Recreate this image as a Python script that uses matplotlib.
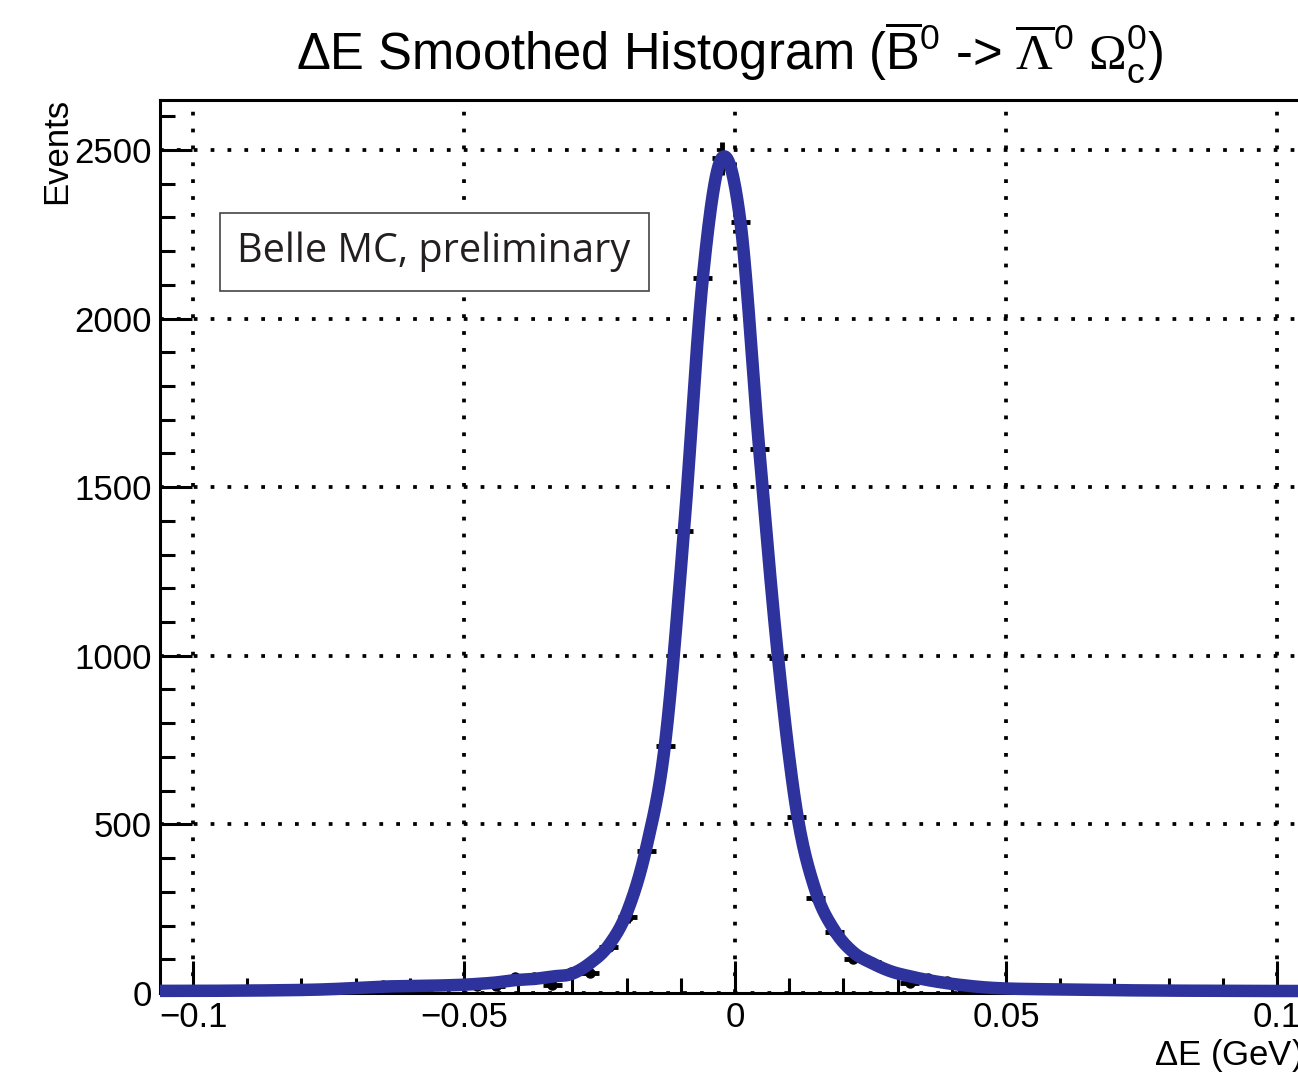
import numpy as np
import matplotlib
matplotlib.use('Agg')
import matplotlib.pyplot as plt
from matplotlib.patches import Rectangle

plt.rcParams['font.family'] = ['Liberation Sans', 'DejaVu Sans']
plt.rcParams['mathtext.fontset'] = 'custom'
plt.rcParams['mathtext.rm'] = 'Liberation Sans'
plt.rcParams['mathtext.it'] = 'Liberation Sans'
plt.rcParams['mathtext.cal'] = 'Liberation Serif'

# histogram binning (GeV)
bin_lo = -0.10484
bin_w = 0.00347

# counts per bin
counts = [6, 7, 5, 8, 6, 9, 7, 10, 8, 12,
          14, 25, 24, 12, 25, 28, 20, 22, 48, 48,
          25, 62, 58, 137, 224, 422, 733, 1371, 2120, 2475,
          2287, 1613, 994, 523, 283, 180, 100, 92, 65, 30,
          45, 35, 8, 15, 12, 10, 14, 9, 11, 7,
          10, 6, 9, 5, 8, 6, 7, 5, 6, 7, 5]

xticks = [-0.1, -0.05, 0, 0.05, 0.1]
xticklabels = ['\u22120.1', '\u22120.05', '0', '0.05', '0.1']
yticks = [0, 500, 1000, 1500, 2000, 2500]

x_min, x_max = -0.1061, 0.1061

counts = np.array(counts, dtype=float)
centers = bin_lo + bin_w * (np.arange(len(counts)) + 0.5)
errs = np.sqrt(counts)

# smoothing: kernel average with a bandwidth that grows where the counts are low
hw = np.clip(0.0008 * (counts.max() / counts) ** 0.4, 0.0008, 0.006)
k = np.exp(-0.5 * ((centers[:, None] - centers[None, :]) / hw[:, None]) ** 2)
ysm = (k * counts).sum(axis=1) / k.sum(axis=1)


def catmull_rom(x, y, n=30):
    xp = np.concatenate([[2 * x[0] - x[1]], x, [2 * x[-1] - x[-2]]])
    yp = np.concatenate([[2 * y[0] - y[1]], y, [2 * y[-1] - y[-2]]])
    xo, yo = [], []
    t = np.linspace(0, 1, n, endpoint=False)
    for i in range(1, len(xp) - 2):
        p0, p1, p2, p3 = yp[i - 1], yp[i], yp[i + 1], yp[i + 2]
        yo.append(0.5 * (2 * p1 + (-p0 + p2) * t + (2 * p0 - 5 * p1 + 4 * p2 - p3) * t ** 2
                         + (-p0 + 3 * p1 - 3 * p2 + p3) * t ** 3))
        xo.append(xp[i] + (xp[i + 1] - xp[i]) * t)
    return np.concatenate(xo), np.concatenate(yo)


xs, ys = catmull_rom(centers, ysm)
keep = (xs >= x_min) & (xs <= x_max)
xs = np.concatenate([[x_min], xs[keep], [x_max]])
ys = np.concatenate([[ysm[0]], ys[keep], [ysm[-1]]])

W, H = 1298, 1074
fig = plt.figure(figsize=(W / 100, H / 100), dpi=100)
ax = fig.add_axes([160 / W, 1 - 993 / H, (1310 - 160) / W, (993 - 100) / H])

ax.errorbar(centers, counts, yerr=errs, xerr=bin_w / 2, fmt='o', color='black',
            ms=6.5, elinewidth=3.5, capsize=0, zorder=3)
ax.plot(xs, ys, color='#2d329c', lw=9, solid_capstyle='butt', zorder=4,
        clip_on=False)

ax.set_xlim(x_min, x_max)
ax.set_ylim(0, 2648)
ax.set_xticks(xticks)
ax.set_xticklabels(xticklabels)
ax.set_yticks(yticks)
ax.set_xticks(np.arange(-0.1, 0.1001, 0.01), minor=True)
ax.set_yticks(np.arange(0, 2601, 100), minor=True)

ax.grid(True, which='major', color='black', linestyle=(0, (1, 3.5)), lw=2.7)
ax.tick_params(which='both', direction='in', top=False, right=False,
               labelsize=25, width=2.2, color='black', pad=6)
ax.tick_params(which='major', length=23)
ax.tick_params(which='minor', length=11)
for s in ax.spines.values():
    s.set_linewidth(2.2)

fig.text(57 / W, 1 - 98 / H, 'Events', rotation=90, ha='center', va='top',
         fontsize=25)
fig.text(1303 / W, 1 - 1055 / H, r'$\Delta$E (GeV)', ha='right', va='center',
         fontsize=25)

title = (r'$\Delta$E Smoothed Histogram ($\overline{\mathrm{B}}^{0}$ -> '
         r'$\overline{\mathcal{\Lambda}}^{0}\ \mathcal{\Omega}^{0}_{\mathrm{c}}$)')
fig.text(730 / W, 1 - 52 / H, title, ha='center', va='center', fontsize=36.5)

rect = Rectangle((220 / W, 1 - 291 / H), 429 / W, 78 / H, transform=fig.transFigure,
                 facecolor='white', edgecolor='#444444', lw=1.2, zorder=5)
fig.patches.append(rect)
fig.text(434 / W, 1 - 252 / H, 'Belle MC, preliminary', ha='center', va='center',
         fontsize=28.5, family='Open Sans', color='#231f20', zorder=6)

fig.savefig('out.png', dpi=100)
